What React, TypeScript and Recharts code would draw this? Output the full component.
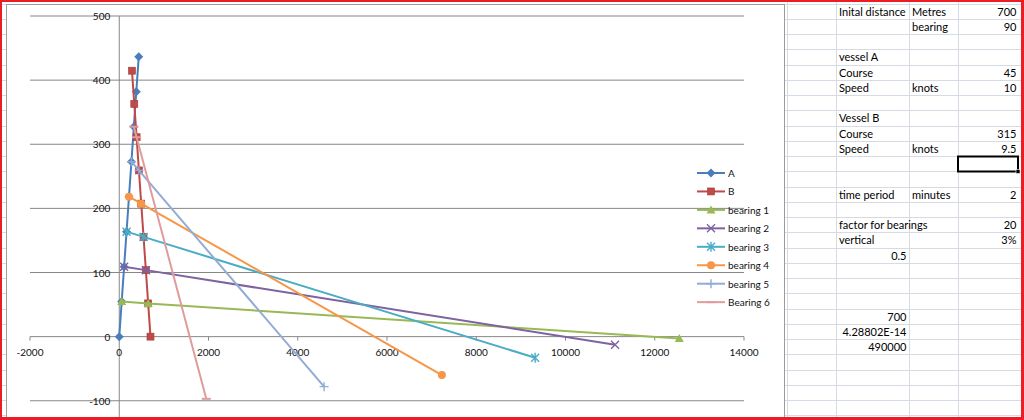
import React from 'react'
import { ScatterChart, Scatter, XAxis, YAxis, ReferenceLine, ReferenceDot } from 'recharts'

const seriesNames = ['A', 'B', 'bearing 1', 'bearing 2', 'bearing 3', 'bearing 4', 'bearing 5', 'Bearing 6']

// vessel A track (course 45)
const vesselAX = [0, 54.6, 109.1, 163.7, 218.3, 272.8, 327.4, 381.9, 436.5]
const vesselAY = [0, 54.6, 109.1, 163.7, 218.3, 272.8, 327.4, 381.9, 436.5]
// vessel B track (course 315)
const vesselBX = [700, 648.2, 596.3, 544.5, 492.6, 440.8, 389.0, 337.1, 285.3]
const vesselBY = [0, 51.8, 103.7, 155.5, 207.4, 259.2, 311.0, 362.9, 414.7]
// far end of each bearing line
const bearingEndX = [12550, 11110, 9320, 7230, 4590, 1950]
const bearingEndY = [-3, -12.5, -33, -60, -78, -97]

const xTicks = [-2000, 0, 2000, 4000, 6000, 8000, 10000, 12000, 14000]
const yTicks = [-100, 0, 100, 200, 300, 400, 500]

// spreadsheet cells next to the chart: columns B, C, D
const sheetRows = [
  ['Inital distance', 'Metres', '700'],
  ['', 'bearing', '90'],
  ['', '', ''],
  ['vessel A', '', ''],
  ['Course', '', '45'],
  ['Speed', 'knots', '10'],
  ['', '', ''],
  ['Vessel B', '', ''],
  ['Course', '', '315'],
  ['Speed', 'knots', '9.5'],
  ['', '', ''],
  ['', '', ''],
  ['time period', 'minutes', '2'],
  ['', '', ''],
  ['factor for bearings', '', '20'],
  ['vertical', '', '3%'],
  ['0.5', '', ''],
  ['', '', ''],
  ['', '', ''],
  ['', '', ''],
  ['700', '', ''],
  ['4.28802E-14', '', ''],
  ['490000', '', ''],
]

const colors = ['#4a7ebb', '#be4b48', '#98b954', '#7e62a1', '#4aacc5', '#f79646', '#93acd5', '#e09c9a']
const markers = ['diamond', 'square', 'triangle', 'x', 'star', 'circle', 'plus', 'dash']

const trackA = vesselAX.map((x, i) => ({ x, y: vesselAY[i] }))
const trackB = vesselBX.map((x, i) => ({ x, y: vesselBY[i] }))
const bearings = bearingEndX.map((ex, i) => [
  trackA[i + 1],
  trackB[i + 1],
  { x: ex, y: bearingEndY[i] },
])
const allSeries = [trackA, trackB, ...bearings]

const font = 'Lato, "Open Sans", sans-serif'

function Marker({ kind, cx, cy, color }: { kind: string; cx?: number; cy?: number; color: string }) {
  if (cx == null || cy == null) return null
  switch (kind) {
    case 'diamond':
      return <polygon points={`${cx},${cy - 4.5} ${cx + 4.5},${cy} ${cx},${cy + 4.5} ${cx - 4.5},${cy}`} fill={color} />
    case 'square':
      return <rect x={cx - 3.5} y={cy - 3.5} width={7} height={7} fill={color} stroke="#a23c3a" strokeWidth={0.6} />
    case 'triangle':
      return <polygon points={`${cx},${cy - 4.5} ${cx + 4.5},${cy + 3.5} ${cx - 4.5},${cy + 3.5}`} fill={color} />
    case 'x':
      return <path d={`M${cx - 4},${cy - 4}L${cx + 4},${cy + 4}M${cx + 4},${cy - 4}L${cx - 4},${cy + 4}`} stroke={color} strokeWidth={1.4} fill="none" />
    case 'star':
      return <path d={`M${cx - 4},${cy - 4}L${cx + 4},${cy + 4}M${cx + 4},${cy - 4}L${cx - 4},${cy + 4}M${cx},${cy - 5}L${cx},${cy + 5}`} stroke={color} strokeWidth={1.4} fill="none" />
    case 'circle':
      return <circle cx={cx} cy={cy} r={4} fill={color} />
    case 'plus':
      return <path d={`M${cx - 4.5},${cy}L${cx + 4.5},${cy}M${cx},${cy - 4.5}L${cx},${cy + 4.5}`} stroke={color} strokeWidth={1.4} fill="none" />
    default:
      return <path d={`M${cx - 4.5},${cy}L${cx + 4.5},${cy}`} stroke={color} strokeWidth={2} fill="none" />
  }
}

function Sheet() {
  const rowTop = (n: number) => 3.5 + 15.25 * n
  const rowLines = Array.from({ length: 28 }, (_, n) => Math.round(rowTop(n)) + 0.5)
  const colLines = [787.5, 836.5, 909.5, 958.5]
  const cols = [
    { left: 836, right: 909 },
    { left: 909, right: 958 },
    { left: 958, right: 1019 },
  ]
  const isNum = (v: string) => /^-?[\d.]+(E-?\d+)?%?$/.test(v)
  return (
    <svg width={1024} height={420} style={{ position: 'absolute', left: 0, top: 0 }}>
      {rowLines.map((y) => (
        <line key={'r' + y} x1={0} x2={1024} y1={y} y2={y} stroke="#d6dae2" />
      ))}
      {colLines.map((x) => (
        <line key={'c' + x} x1={x} x2={x} y1={0} y2={420} stroke="#d6dae2" />
      ))}
      {sheetRows.map((row, r) =>
        row.map((v, c) =>
          v ? (
            <text
              key={r + '-' + c}
              x={isNum(v) ? cols[c].right - 2.5 : cols[c].left + 3}
              y={rowTop(r) + 12}
              textAnchor={isNum(v) ? 'end' : 'start'}
              fontFamily={font}
              fontSize={11}
              fill="#000"
            >
              {v}
            </text>
          ) : null
        )
      )}
      <rect x={958} y={156.5} width={60} height={15} fill="none" stroke="#000" strokeWidth={2} />
      <rect x={1016} y={169.5} width={4} height={4} fill="#000" stroke="#fff" strokeWidth={0.6} />
    </svg>
  )
}

function ChartLegend() {
  return (
    <svg width={784} height={420} style={{ position: 'absolute', left: 0, top: 0, pointerEvents: 'none' }}>
      {seriesNames.map((name, i) => {
        const cy = 173 + i * 18.45
        return (
          <g key={name}>
            <line x1={697} x2={725} y1={cy} y2={cy} stroke={colors[i]} strokeWidth={2} />
            <Marker kind={markers[i]} cx={711} cy={cy} color={colors[i]} />
            <text x={728} y={cy} dominantBaseline="central" fontFamily={font} fontSize={10} fill="#111">
              {name}
            </text>
          </g>
        )
      })}
    </svg>
  )
}

export default function App() {
  return (
    <div style={{ position: 'absolute', left: 0, top: 0, width: 1024, height: 420, overflow: 'hidden', background: '#fff' }}>
      <Sheet />
      <div
        style={{
          position: 'absolute',
          left: 6,
          top: 4,
          width: 777,
          height: 430,
          background: '#fff',
          border: '1px solid #9c9c9c',
        }}
      />
      <div style={{ position: 'absolute', left: 0, top: 0 }}>
        <ScatterChart width={784} height={420} margin={{ top: 16, right: 40, bottom: 0, left: 30 }}>
          <XAxis type="number" dataKey="x" domain={[-2000, 14000]} allowDataOverflow hide />
          <YAxis type="number" dataKey="y" domain={[-130, 500]} allowDataOverflow hide />
          {yTicks.map((v) => (
            <ReferenceLine key={'g' + v} y={v} stroke="#878787" strokeWidth={1} />
          ))}
          <ReferenceLine x={0} stroke="#878787" strokeWidth={1} />
          {xTicks.map((v) => (
            <ReferenceDot
              key={'xt' + v}
              x={v}
              y={0}
              r={0}
              shape={(p: any) => (
                <g>
                  <line x1={p.cx} x2={p.cx} y1={p.cy} y2={p.cy + 4} stroke="#878787" />
                  <text x={p.cx} y={p.cy + 15} textAnchor="middle" dominantBaseline="central" fontFamily={font} fontSize={10} fill="#111">
                    {v}
                  </text>
                </g>
              )}
            />
          ))}
          {yTicks.map((v) => (
            <ReferenceDot
              key={'yt' + v}
              x={0}
              y={v}
              r={0}
              shape={(p: any) => (
                <text x={p.cx - 9} y={p.cy} textAnchor="end" dominantBaseline="central" fontFamily={font} fontSize={10} fill="#111">
                  {v}
                </text>
              )}
            />
          ))}
          {allSeries.map((data, i) => (
            <Scatter
              key={seriesNames[i]}
              name={seriesNames[i]}
              data={data}
              fill={colors[i]}
              line={{ stroke: colors[i], strokeWidth: 2 }}
              lineType="joint"
              shape={(p: any) => <Marker kind={markers[i]} cx={p.cx} cy={p.cy} color={colors[i]} />}
              isAnimationActive={false}
            />
          ))}
        </ScatterChart>
      </div>
      <ChartLegend />
      <div
        style={{
          position: 'absolute',
          left: 0,
          top: 0,
          width: 1024,
          height: 420,
          boxSizing: 'border-box',
          borderStyle: 'solid',
          borderColor: '#ec1c24',
          borderWidth: '2px 3px 3px 2px',
          pointerEvents: 'none',
        }}
      />
    </div>
  )
}
